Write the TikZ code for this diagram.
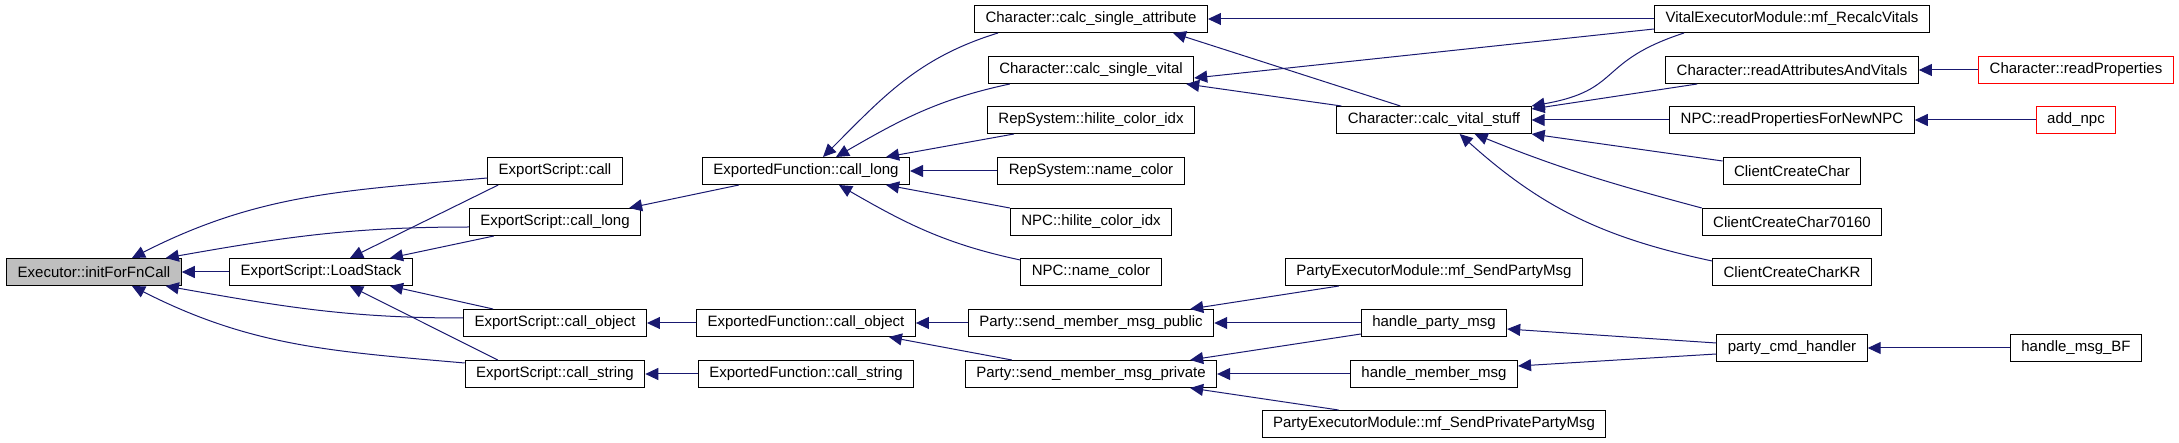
\documentclass[tikz,border=0pt]{standalone}
\usepackage{fontspec}
\setmainfont{Liberation Sans}
\usetikzlibrary{arrows.meta}
\definecolor{edgeblue}{HTML}{191970}
\definecolor{rootgray}{HTML}{BFBFBF}

\begin{document}
\begin{tikzpicture}[
  x=1pt, y=-1pt,
  fnbox/.style={draw=black, line width=1pt, minimum height=27pt, inner xsep=11pt, inner ysep=0pt,
                font=\fontsize{15}{18}\selectfont},
  rootbox/.style={fnbox, fill=rootgray},
  redbox/.style={fnbox, draw=red},
  calledge/.style={draw=edgeblue, line width=1pt, arrows={Triangle[length=13pt,width=12pt]-}},
]
\useasboundingbox (0,0) rectangle (2179,443);

% Root function
\node[rootbox] (init) at (94,272) {Executor::initForFnCall};

% ExportScript
\node[fnbox] (loadstack) at (321,272) {ExportScript::LoadStack};
\node[fnbox] (escall) at (555,171) {ExportScript::call};
\node[fnbox] (eslong) at (555,222) {ExportScript::call\_long};
\node[fnbox] (esobj) at (555,323) {ExportScript::call\_object};
\node[fnbox] (esstr) at (555,374) {ExportScript::call\_string};

% ExportedFunction
\node[fnbox] (eflong) at (806,171) {ExportedFunction::call\_long};
\node[fnbox] (efobj) at (806,323) {ExportedFunction::call\_object};
\node[fnbox] (efstr) at (806,374) {ExportedFunction::call\_string};

% Callers of call_long / call_object
\node[fnbox] (csattr) at (1091,19) {Character::calc\_single\_attribute};
\node[fnbox] (csvital) at (1091,70) {Character::calc\_single\_vital};
\node[fnbox] (rshilite) at (1091,120) {RepSystem::hilite\_color\_idx};
\node[fnbox] (rsname) at (1091,171) {RepSystem::name\_color};
\node[fnbox] (npchilite) at (1091,222) {NPC::hilite\_color\_idx};
\node[fnbox] (npcname) at (1091,272) {NPC::name\_color};
\node[fnbox] (smpub) at (1091,323) {Party::send\_member\_msg\_public};
\node[fnbox] (smpriv) at (1091,374) {Party::send\_member\_msg\_private};

% Next level
\node[fnbox] (cvstuff) at (1434,120) {Character::calc\_vital\_stuff};
\node[fnbox] (pesend) at (1434,272) {PartyExecutorModule::mf\_SendPartyMsg};
\node[fnbox] (hparty) at (1434,323) {handle\_party\_msg};
\node[fnbox] (hmember) at (1434,374) {handle\_member\_msg};
\node[fnbox] (pesendpriv) at (1434,424) {PartyExecutorModule::mf\_SendPrivatePartyMsg};

\node[fnbox] (recalc) at (1792,19) {VitalExecutorModule::mf\_RecalcVitals};
\node[fnbox] (readav) at (1792,70) {Character::readAttributesAndVitals};
\node[fnbox] (readnpc) at (1792,120) {NPC::readPropertiesForNewNPC};
\node[fnbox] (ccc) at (1792,171) {ClientCreateChar};
\node[fnbox] (ccc70160) at (1792,222) {ClientCreateChar70160};
\node[fnbox] (ccckr) at (1792,272) {ClientCreateCharKR};
\node[fnbox] (partycmd) at (1792,348) {party\_cmd\_handler};

% Outermost callers
\node[redbox] (readprops) at (2076,70) {Character::readProperties};
\node[redbox] (addnpc) at (2076,120) {add\_npc};
\node[fnbox] (msgbf) at (2076,348) {handle\_msg\_BF};

% Straight calls
\foreach \callee/\caller in {init/loadstack, esobj/efobj, esstr/efstr, eflong/rsname,
    efobj/smpub, csattr/recalc, cvstuff/readnpc, readav/readprops, readnpc/addnpc,
    smpub/hparty, smpriv/hmember, partycmd/msgbf}
  \draw[calledge] (\callee.east) -- (\caller.west);

% Into Executor::initForFnCall
\draw[calledge] ([xshift=38pt]init.north) to[out=27,in=185] ([yshift=-7pt]escall.west);
\draw[calledge] ([xshift=-16pt]init.north east) to[out=10,in=180] ([yshift=-5pt]eslong.west);
\draw[calledge] ([xshift=-16pt]init.south east) to[out=-10,in=180] ([yshift=5pt]esobj.west);
\draw[calledge] ([xshift=38pt]init.south) to[out=-27,in=175] ([yshift=-3pt]esstr.north west);

% Into ExportScript::LoadStack
\draw[calledge] ([xshift=29pt]loadstack.north) -- ([xshift=11pt]escall.south west);
\draw[calledge] ([xshift=-23pt]loadstack.north east) -- ([xshift=25pt]eslong.south west);
\draw[calledge] ([xshift=-23pt]loadstack.south east) -- ([xshift=30pt]esobj.north west);
\draw[calledge] ([xshift=29pt]loadstack.south) -- ([xshift=33pt]esstr.north west);

\draw[calledge] ([xshift=-12pt]eslong.north east) -- ([xshift=37pt]eflong.south west);

% Into ExportedFunction::call_long
\draw[calledge] ([xshift=17pt]eflong.north) to[out=45,in=197] ([xshift=24pt]csattr.south west);
\draw[calledge] ([xshift=30pt]eflong.north) to[out=30,in=192] ([xshift=22pt]csvital.south west);
\draw[calledge] ([xshift=-24pt]eflong.north east) -- ([xshift=27pt]rshilite.south west);
\draw[calledge] ([xshift=-24pt]eflong.south east) -- (npchilite.north west);
\draw[calledge] ([xshift=33pt]eflong.south) to[out=-30,in=168] ([yshift=-2pt]npcname.north west);

\draw[calledge] ([xshift=-27pt]efobj.south east) -- ([xshift=47pt]smpriv.north west);

% Into the Character calc functions
\draw[calledge] ([xshift=-35pt]csattr.south east) -- ([xshift=64pt]cvstuff.north west);
\draw[calledge] ([yshift=-8pt]csvital.east) -- ([yshift=-10pt]recalc.west);
\draw[calledge] ([xshift=-8pt]csvital.south east) -- ([xshift=5pt]cvstuff.north west);
\draw[calledge] (cvstuff.north east) to[out=10,in=198,looseness=1.4] ([xshift=30pt]recalc.south west);
\draw[calledge] ([yshift=-3pt]cvstuff.north east) -- ([xshift=32pt]readav.south west);
\draw[calledge] (cvstuff.south east) -- ([yshift=-4pt]ccc.north west);
\draw[calledge] ([xshift=-57pt]cvstuff.south east) to[out=-22,in=165] (ccc70160.north west);
\draw[calledge] ([xshift=-72pt]cvstuff.south east) to[out=-42,in=168] ([yshift=-3pt]ccckr.north west);

% Party messages
\draw[calledge] ([xshift=-24pt]smpub.north east) -- ([xshift=54pt]pesend.south west);
\draw[calledge] ([xshift=-27pt]smpriv.north east) -- ([yshift=3pt]hparty.south west);
\draw[calledge] ([xshift=-27pt]smpriv.south east) -- ([xshift=77pt]pesendpriv.north west);
\draw[calledge] ([yshift=-6pt]hparty.east) -- ([yshift=5pt]partycmd.west);
\draw[calledge] ([yshift=8pt]hmember.east) -- ([yshift=-6pt]partycmd.west);

\end{tikzpicture}
\end{document}
